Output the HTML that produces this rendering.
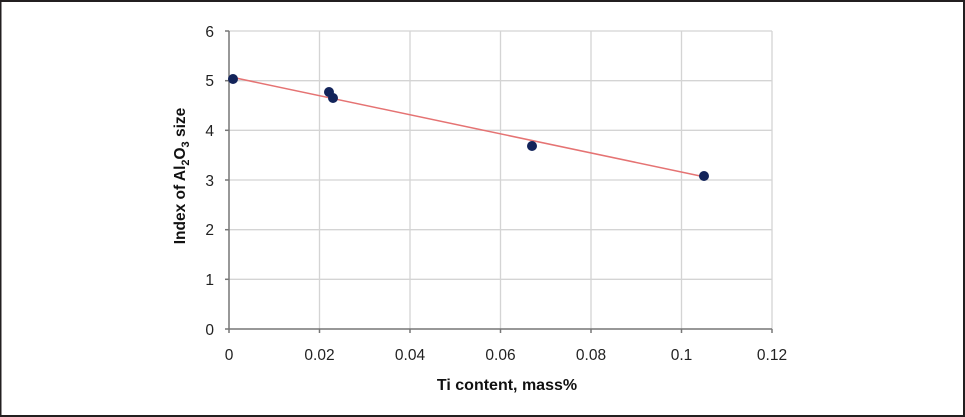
<!DOCTYPE html>
<html><head><style>
html,body{margin:0;padding:0;background:#fff;}
body{width:965px;height:417px;overflow:hidden;position:relative;}
svg{position:absolute;left:0;top:0;font-family:"Liberation Sans",Arial,sans-serif;}
</style></head><body>
<svg width="965" height="417" viewBox="0 0 965 417">
<rect x="0" y="0" width="965" height="417" fill="#fff"/>
<rect x="0" y="0" width="965" height="2" fill="#231f20"/>
<rect x="0" y="415" width="965" height="2" fill="#231f20"/>
<rect x="0" y="0" width="1.5" height="417" fill="#231f20"/>
<rect x="963" y="0" width="2" height="417" fill="#231f20"/>
<g stroke="#d4d4d4" stroke-width="1.3">
<line x1="229" y1="31" x2="772" y2="31"/>
<line x1="229" y1="80.7" x2="772" y2="80.7"/>
<line x1="229" y1="130.3" x2="772" y2="130.3"/>
<line x1="229" y1="180" x2="772" y2="180"/>
<line x1="229" y1="229.7" x2="772" y2="229.7"/>
<line x1="229" y1="279.3" x2="772" y2="279.3"/>
<line x1="319.5" y1="31" x2="319.5" y2="329"/>
<line x1="410" y1="31" x2="410" y2="329"/>
<line x1="500.5" y1="31" x2="500.5" y2="329"/>
<line x1="591" y1="31" x2="591" y2="329"/>
<line x1="681.5" y1="31" x2="681.5" y2="329"/>
<line x1="772" y1="31" x2="772" y2="329"/>
</g>
<g stroke="#777" stroke-width="1.5">
<line x1="229" y1="31" x2="229" y2="333"/>
<line x1="225" y1="329" x2="772" y2="329"/>
<line x1="225" y1="31" x2="229" y2="31"/><line x1="225" y1="80.7" x2="229" y2="80.7"/>
<line x1="225" y1="130.3" x2="229" y2="130.3"/><line x1="225" y1="180" x2="229" y2="180"/>
<line x1="225" y1="229.7" x2="229" y2="229.7"/><line x1="225" y1="279.3" x2="229" y2="279.3"/>
<line x1="319.5" y1="329" x2="319.5" y2="333"/><line x1="410" y1="329" x2="410" y2="333"/>
<line x1="500.5" y1="329" x2="500.5" y2="333"/><line x1="591" y1="329" x2="591" y2="333"/>
<line x1="681.5" y1="329" x2="681.5" y2="333"/><line x1="772" y1="329" x2="772" y2="333"/>
</g>
<g font-size="15.5" fill="#222" text-anchor="end">
<text x="214" y="37">6</text><text x="214" y="86">5</text><text x="214" y="136">4</text>
<text x="214" y="186">3</text><text x="214" y="235">2</text><text x="214" y="285">1</text>
<text x="214" y="335">0</text>
</g>
<g font-size="15.5" fill="#222" text-anchor="middle">
<text x="229" y="360">0</text><text x="319.5" y="360">0.02</text><text x="410" y="360">0.04</text>
<text x="500.5" y="360">0.06</text><text x="591" y="360">0.08</text><text x="681.5" y="360">0.1</text>
<text x="772" y="360">0.12</text>
</g>
<text x="507" y="390" font-size="16" font-weight="bold" text-anchor="middle" fill="#111">Ti content, mass%</text>
<text transform="translate(185,176) rotate(-90)" font-size="15.5" font-weight="bold" text-anchor="middle" fill="#111">Index of Al<tspan font-size="11" dy="4">2</tspan><tspan dy="-4">O</tspan><tspan font-size="11" dy="4">3</tspan><tspan dy="-4"> size</tspan></text>
<line x1="231" y1="77" x2="705" y2="177" stroke="#e57373" stroke-width="1.5"/>
<g fill="#13245a">
<circle cx="233" cy="79" r="5"/><circle cx="329" cy="92" r="5"/><circle cx="333" cy="98" r="5"/>
<circle cx="532" cy="146" r="5"/><circle cx="704" cy="176" r="5"/>
</g>
</svg>
</body></html>
